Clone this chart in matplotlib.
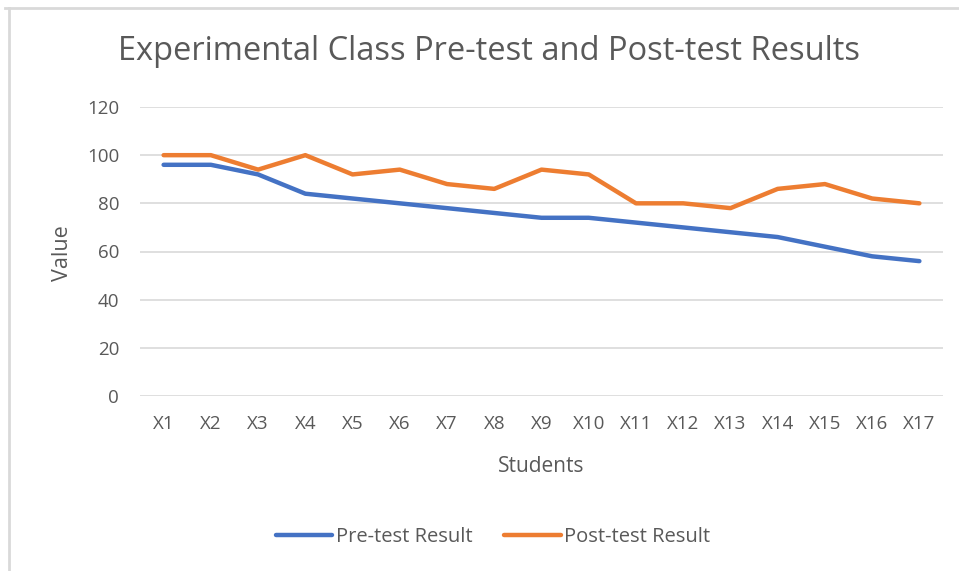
import matplotlib.pyplot as plt
from matplotlib.lines import Line2D

# donnees
students = ['X%d' % i for i in range(1, 18)]
pre_test = [96, 96, 92, 84, 82, 80, 78, 76, 74, 74, 72, 70, 68, 66, 62, 58, 56]
post_test = [100, 100, 94, 100, 92, 94, 88, 86, 94, 92, 80, 80, 78, 86, 88, 82, 80]
yticks = [0, 20, 40, 60, 80, 100, 120]

TXT = '#595959'
plt.rcParams['font.family'] = ['Open Sans', 'DejaVu Sans']

fig = plt.figure(figsize=(9.59, 5.71), dpi=100)
W, H = 959.0, 571.0
# zone de trace : x 140..943, y 107..396 (pixels)
ax = fig.add_axes([140 / W, 1 - 396 / H, (943 - 140) / W, (396 - 107) / H])

x = range(len(students))
ax.plot(x, pre_test, color='#4472C4', lw=3.2, solid_capstyle='round',
        solid_joinstyle='round', label='Pre-test Result', zorder=3)
ax.plot(x, post_test, color='#ED7D31', lw=3.2, solid_capstyle='round',
        solid_joinstyle='round', label='Post-test Result', zorder=3)

ax.set_xlim(-0.5, len(students) - 0.5)
ax.set_ylim(0, 120)
ax.set_yticks(yticks)
ax.set_xticks(list(x))
ax.set_xticklabels(students)
ax.yaxis.grid(True, color='#D9D9D9', lw=1.2)
ax.set_axisbelow(True)
for s in ax.spines.values():
    s.set_visible(False)
ax.tick_params(length=0, labelsize=13.5, labelcolor=TXT)
ax.tick_params(axis='y', pad=15)
ax.tick_params(axis='x', pad=14)

fig.text(541 / W, 1 - 466 / H, 'Students', ha='center', va='center',
         fontsize=15, color=TXT)
fig.text(62 / W, 1 - 253 / H, 'Value', ha='center', va='center',
         rotation=90, fontsize=15.5, color=TXT)
fig.text(489 / W, 1 - 52 / H, 'Experimental Class Pre-test and Post-test Results',
         ha='center', va='center', fontsize=23.5, color=TXT)

handles = [Line2D([0], [0], color='#4472C4', lw=3.2, solid_capstyle='round'),
           Line2D([0], [0], color='#ED7D31', lw=3.2, solid_capstyle='round')]
fig.legend(handles, ['Pre-test Result', 'Post-test Result'], loc='center',
           bbox_to_anchor=(493 / W, 1 - 537 / H), ncol=2, frameon=False,
           fontsize=14.5, labelcolor=TXT, handlelength=2.8, handletextpad=0.15,
           columnspacing=1.6)

# bordure grise (haut et gauche)
fig.add_artist(Line2D([5 / W, 1], [1 - 8 / H, 1 - 8 / H], color='#D9D9D9', lw=2))
fig.add_artist(Line2D([9 / W, 9 / W], [0, 1 - 8 / H], color='#D9D9D9', lw=2))

fig.savefig('out.png', dpi=100, facecolor='white')
